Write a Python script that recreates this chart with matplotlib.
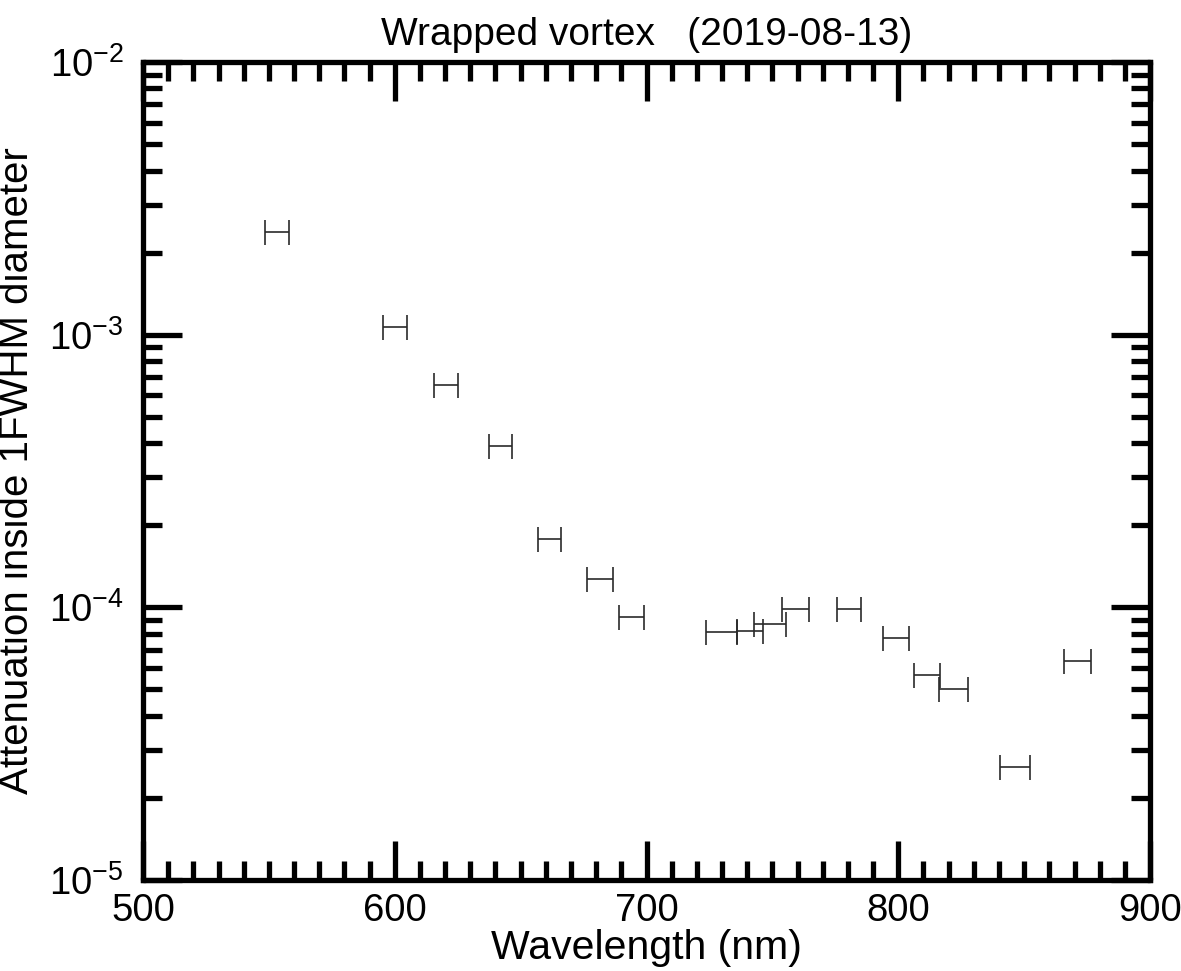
import matplotlib
matplotlib.use("Agg")
import matplotlib.pyplot as plt
from matplotlib.ticker import LogLocator, MultipleLocator, FixedLocator, NullFormatter

plt.rcParams['font.family'] = ['Liberation Sans', 'DejaVu Sans']
plt.rcParams['mathtext.fontset'] = 'custom'
plt.rcParams['mathtext.rm'] = 'Liberation Sans'
plt.rcParams['mathtext.it'] = 'Liberation Sans'
plt.rcParams['mathtext.bf'] = 'Liberation Sans'

# Data
wavelength = [553.1, 600.0, 620.4, 641.9, 661.3, 681.5, 694.0, 729.7, 741.0,
              749.1, 759.3, 780.3, 799.0, 811.4, 821.8, 846.3, 871.1]
half_width = [4.8, 4.8, 4.8, 4.6, 4.6, 5.0, 5.0, 6.1, 5.2,
              6.3, 5.4, 4.8, 5.2, 5.2, 5.8, 6.0, 5.4]
attenuation = [2.39e-3, 1.064e-3, 6.52e-4, 3.91e-4, 1.78e-4, 1.27e-4, 9.2e-5,
               8.15e-5, 8.22e-5, 8.69e-5, 9.86e-5, 9.86e-5, 7.71e-5, 5.65e-5,
               5.01e-5, 2.59e-5, 6.35e-5]

x_ticks = [500, 600, 700, 800, 900]
y_ticks = [1e-5, 1e-4, 1e-3, 1e-2]
y_ticklabels = [r'$10^{\mathrm{-5}}$', r'$10^{\mathrm{-4}}$',
                r'$10^{\mathrm{-3}}$', r'$10^{\mathrm{-2}}$']

fig = plt.figure(figsize=(11.81, 9.71), dpi=100)
ax = fig.add_axes([0.1211, 0.0937, 0.9738 - 0.1211, 0.9361 - 0.0937])

ax.errorbar(wavelength, attenuation, xerr=half_width, fmt='none',
            ecolor='#2a2a2a', elinewidth=1.2, capsize=9, capthick=1.2)

ax.set_yscale('log')
ax.set_xlim(500, 900)
ax.set_ylim(1e-5, 1e-2)

ax.xaxis.set_major_locator(FixedLocator(x_ticks))
ax.xaxis.set_minor_locator(MultipleLocator(10))
ax.yaxis.set_major_locator(FixedLocator(y_ticks))
ax.set_yticklabels(y_ticklabels)
ax.yaxis.set_minor_locator(LogLocator(base=10, subs=range(2, 10)))
ax.yaxis.set_minor_formatter(NullFormatter())

for sp in ax.spines.values():
    sp.set_linewidth(3.8)

ax.tick_params(which='both', direction='in', top=True, right=True, width=3.8)
ax.tick_params(which='major', length=28, labelsize=27.5, pad=9)
ax.tick_params(axis='y', which='major', pad=14)
ax.tick_params(which='minor', length=14)

ax.set_xlabel('Wavelength (nm)', fontsize=29.5, labelpad=0)
ax.set_ylabel('Attenuation inside 1FWHM diameter', fontsize=29, labelpad=9)
ax.set_title('Wrapped vortex   (2019-08-13)', fontsize=28, pad=12)

fig.savefig('out.png', dpi=100)
